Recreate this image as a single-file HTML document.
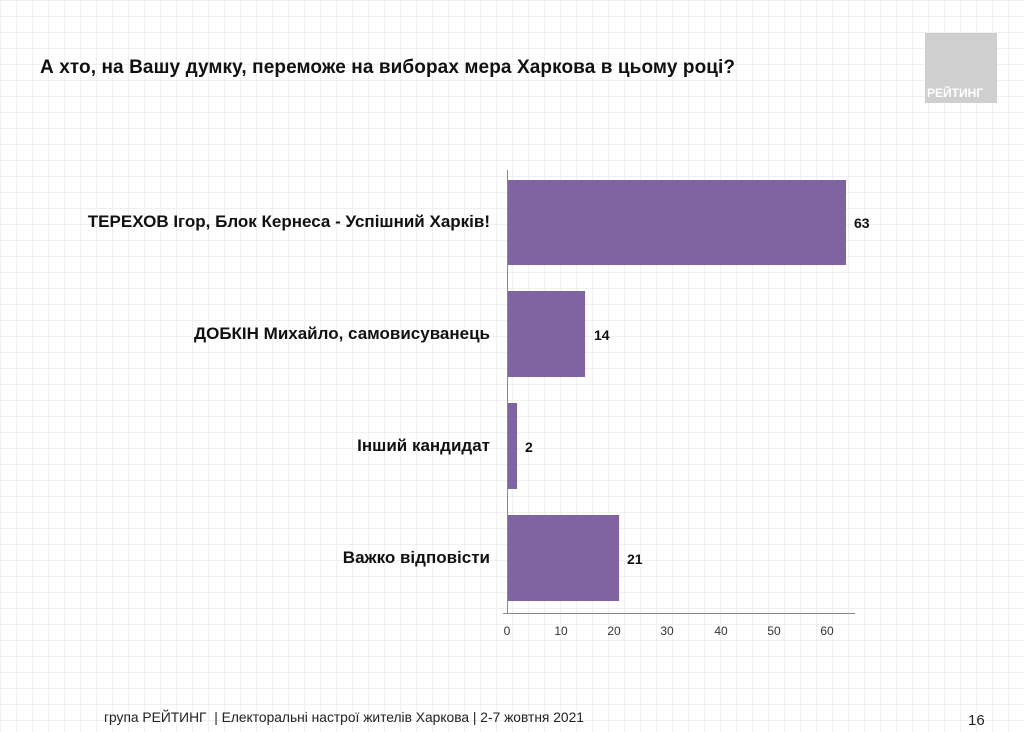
<!DOCTYPE html>
<html><head><meta charset="utf-8"><style>
body{margin:0;width:1024px;height:732px;background:#fff;font-family:"Liberation Sans",sans-serif;position:relative;overflow:hidden}
.grid{position:absolute;left:0;top:0;width:1024px;height:732px;background-image:linear-gradient(#f0f0f0 1px,transparent 1px),linear-gradient(90deg,#f0f0f0 1px,transparent 1px);background-size:16px 16px}
.t{position:absolute;white-space:nowrap}
.lbl{position:absolute;right:534px;font-weight:bold;font-size:17px;color:#111}
.bar{position:absolute;left:508px;background:#8064a2}
.v{position:absolute;font-weight:bold;font-size:14px;color:#111}
.tk{position:absolute;top:624px;font-size:12px;color:#333;width:30px;text-align:center}
</style></head><body>
<div class="grid"></div>
<div class="t" style="left:40px;top:57px;font-size:19px;font-weight:bold;color:#111;letter-spacing:0.1px">А хто, на Вашу думку, переможе на виборах мера Харкова в цьому році?</div>
<div style="position:absolute;left:925px;top:33px;width:72px;height:70px;background:#cfcfcf"></div>
<div class="t" style="left:927px;top:86px;font-size:12px;font-weight:bold;color:#fff">РЕЙТИНГ</div>
<div class="lbl" style="top:212px">ТЕРЕХОВ Ігор, Блок Кернеса - Успішний Харків!</div>
<div class="lbl" style="top:324px">ДОБКІН Михайло, самовисуванець</div>
<div class="lbl" style="top:436px">Інший кандидат</div>
<div class="lbl" style="top:548px">Важко відповісти</div>
<div class="bar" style="top:180px;height:85px;width:338px"></div>
<div class="bar" style="top:291px;height:86px;width:77px"></div>
<div class="bar" style="top:403px;height:86px;width:9px"></div>
<div class="bar" style="top:515px;height:86px;width:111px"></div>
<div class="v" style="left:854px;top:215px">63</div>
<div class="v" style="left:594px;top:327px">14</div>
<div class="v" style="left:525px;top:439px">2</div>
<div class="v" style="left:627px;top:551px">21</div>
<div style="position:absolute;left:507px;top:170px;width:1px;height:444px;background:#888"></div>
<div style="position:absolute;left:503px;top:613px;width:352px;height:1px;background:#888"></div>
<div class="tk" style="left:492px">0</div>
<div class="tk" style="left:546px">10</div>
<div class="tk" style="left:599px">20</div>
<div class="tk" style="left:652px">30</div>
<div class="tk" style="left:706px">40</div>
<div class="tk" style="left:759px">50</div>
<div class="tk" style="left:812px">60</div>
<div class="t" style="left:104px;top:710px;font-size:13.8px;color:#222">група РЕЙТИНГ&nbsp; | Електоральні настрої жителів Харкова | 2-7 жовтня 2021</div>
<div class="t" style="left:968px;top:712px;font-size:15px;color:#222">16</div>
</body></html>
